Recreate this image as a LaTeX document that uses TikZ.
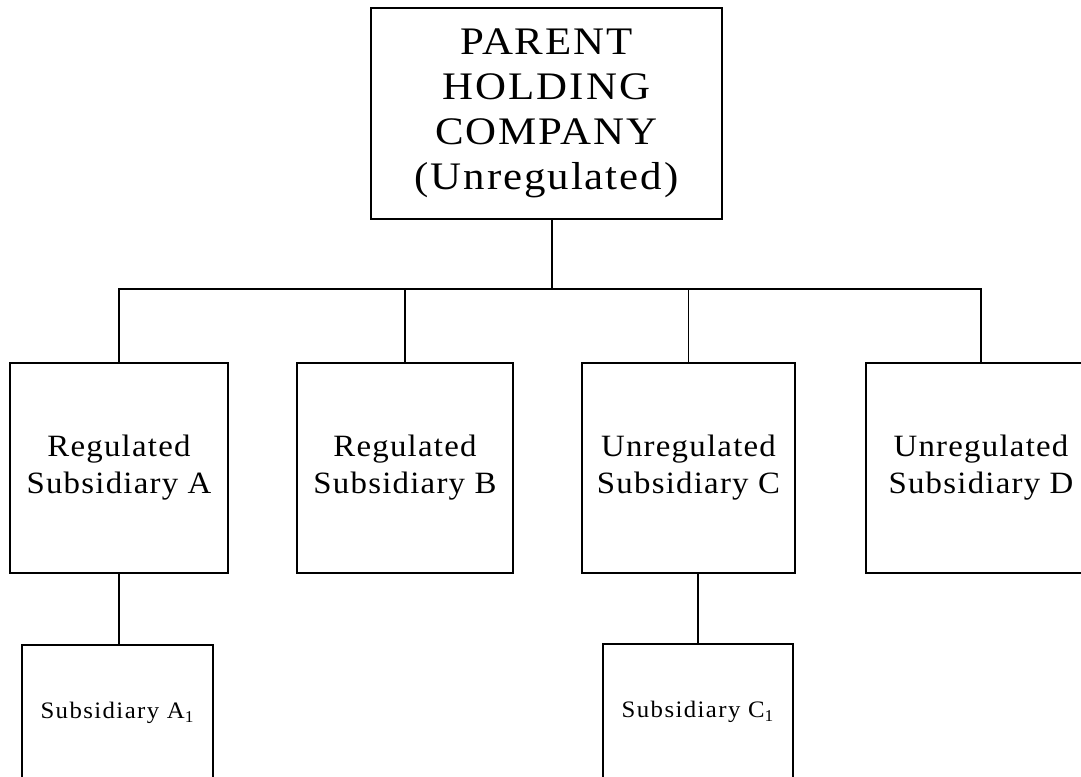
\documentclass[tikz,border=0pt]{standalone}
\usepackage{fontspec}
\setmainfont{Liberation Serif}
\newfontfamily\bigfont[LetterSpace=5, FakeStretch=1.1]{Liberation Serif}
\newfontfamily\midfont[LetterSpace=4, FakeStretch=1.06]{Liberation Serif}
\newfontfamily\smallfont[LetterSpace=6, FakeStretch=1.05]{Liberation Serif}
\begin{document}
\begin{tikzpicture}[x=0.5pt, y=-0.5pt,
    box/.style={draw, line width=0.9pt, inner sep=0pt, align=center},
    midbox/.style={box, minimum height=105pt, font=\midfont\fontsize{15.5}{18.5}\selectfont},
    lowbox/.style={box, minimum height=68pt, font=\smallfont\fontsize{11.8}{13}\selectfont},
    link/.style={line width=0.8pt}]
    % Page frame (reference proportions)
    \useasboundingbox (0,0) rectangle (1081,776);
    \clip (0,0) rectangle (1081,776);

    % Parent holding company
    \node[box, minimum width=175.5pt, minimum height=105.5pt, font=\bigfont\fontsize{19.5}{22.5}\selectfont] (parent) at (546.5,113.5) {PARENT\\HOLDING\\COMPANY\\(Unregulated)};

    % First-tier subsidiaries
    \node[midbox, minimum width=109pt] (subA) at (119,468) {Regulated\\Subsidiary A};
    \node[midbox, minimum width=108pt] (subB) at (405,468) {Regulated\\Subsidiary B};
    \node[midbox, minimum width=106.5pt] (subC) at (688.5,468) {Unregulated\\Subsidiary C};
    \node[midbox, minimum width=115pt] (subD) at (981,468) {Unregulated\\Subsidiary D};

    % Second-tier subsidiaries (run off the bottom edge)
    \node[lowbox, minimum width=95.5pt] (subAi) at (117.5,713) {Subsidiary A\textsubscript{1}};
    \node[lowbox, minimum width=95pt] (subCi) at (698,712) {Subsidiary C\textsubscript{1}};

    % Connectors
    \coordinate (bus) at (0,289);
    \draw[link] ([xshift=2.75pt]parent.south) -- ([xshift=2.75pt]parent.south |- bus);
    \draw[link] (subA.north) |- (bus -| subD.north) -- (subD.north);
    \draw[link] (subB.north) -- (subB.north |- bus);
    \draw[link] (subC.north) -- (subC.north |- bus);
    \draw[link] (subA.south) -- (subA.south |- subAi.north);
    \draw[link] (subCi.north |- subC.south) -- (subCi.north);
\end{tikzpicture}
\end{document}
